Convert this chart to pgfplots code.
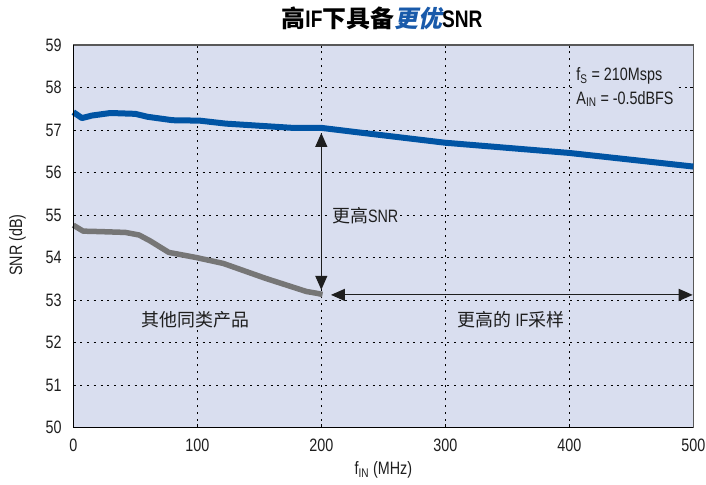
\documentclass[border=0pt]{standalone}
\usepackage{fontspec}
\setmainfont[FakeStretch=0.8]{Liberation Sans}
\newfontfamily\cjk{Noto Sans CJK SC}
\newfontfamily\cjkit[FakeSlant=0.2]{Noto Sans CJK SC}
\usepackage{pgfplots}
\pgfplotsset{compat=1.18}
\usetikzlibrary{arrows.meta}
\definecolor{bg}{RGB}{217,222,239}
\definecolor{snrblue}{RGB}{0,84,164}
\definecolor{snrgray}{RGB}{118,118,118}
\definecolor{titleblue}{RGB}{25,90,170}
\definecolor{txt}{RGB}{30,30,30}
\pgfplotstableread{
x y
0 57.42
7 57.28
15 57.34
30 57.40
50 57.38
60 57.31
80 57.23
102 57.22
123 57.15
150 57.10
177 57.05
200 57.05
231 56.94
300 56.70
400 56.46
500 56.14
}\bluedata
\pgfplotstableread{
x y
0 54.76
8 54.62
21 54.61
42 54.59
53 54.53
62 54.39
77 54.12
99 54.00
121 53.86
155 53.51
188 53.20
196 53.16
201 53.13
}\graydata
\begin{document}
\begin{tikzpicture}
\useasboundingbox (0,0) rectangle (706bp,485bp);
\begin{axis}[
  at={(73.3bp,57.5bp)}, anchor=south west,
  width=620bp, height=382.5bp, scale only axis,
  xmin=0, xmax=500, ymin=50, ymax=59,
  xtick={0,100,...,500}, ytick={50,51,...,59},
  axis background/.style={fill=bg},
  grid=major,
  major grid style={black, line width=0.8bp, dash pattern=on 2bp off 4.8bp},
  axis line style={draw=black!65, line width=1.2bp},
  tick style={black, line width=0.6bp},
  major tick length=3bp,
  tick align=inside,
  ticklabel style={font=\fontsize{18}{20}\selectfont, text=txt},
  xticklabel style={inner sep=0pt, anchor=north, yshift=-11bp},
  yticklabel style={inner sep=0pt, anchor=east, xshift=-11.6bp},
  /pgf/number format/assume math mode=true,
  xlabel={f\textsubscript{IN} (MHz)},
  ylabel={SNR (dB)},
  xlabel style={at={(axis description cs:0.5,-0.111)}, anchor=center, font=\fontsize{18}{20}\selectfont, text=txt},
  ylabel style={at={(axis description cs:-0.090,0.477)}, anchor=center, font=\fontsize{18}{20}\selectfont, text=txt},
  clip=false,
]
\addplot[snrblue, line width=6bp, line join=round] table[x=x,y=y] {\bluedata};
\addplot[snrgray, line width=5.5bp, line join=round] table[x=x,y=y] {\graydata};
\draw[black, line width=1.2bp] (rel axis cs:0,1) -- (rel axis cs:0,0) -- (rel axis cs:1,0);
\draw[txt, line width=1.2bp, {Triangle[length=14bp,width=12bp]}-{Triangle[length=14bp,width=12bp]}] (axis cs:200,56.93) -- (axis cs:200,53.24);
\draw[txt, line width=1.2bp, {Triangle[length=14bp,width=12bp]}-{Triangle[length=14bp,width=12bp]}] (axis cs:207.8,53.12) -- (axis cs:499.5,53.12);
\node[anchor=west, fill=bg, inner sep=2bp, text=txt, font=\fontsize{18}{20}\selectfont] at (axis cs:207,54.98) {{\cjk 更高}SNR};
\node[anchor=center, fill=bg, inner sep=2bp, text=txt, font=\fontsize{18}{20}\selectfont\cjk] at (axis cs:98.5,52.53) {其他同类产品};
\node[anchor=center, fill=bg, inner sep=2bp, text=txt, font=\fontsize{18}{20}\selectfont] at (axis cs:353,52.53) {{\cjk 更高的} IF{\cjk 采样}};
\node[anchor=west, fill=bg, inner sep=2bp, align=left, text=txt, font=\fontsize{18}{24}\selectfont] at (axis cs:404,58.01) {f\textsubscript{S} = 210Msps\\A\textsubscript{IN} = -0.5dBFS};
\end{axis}
\node[anchor=center, font=\fontsize{24}{26}\selectfont\bfseries] at (382bp,467bp) {{\cjk 高}IF{\cjk 下具备}{\cjkit\color{titleblue}更优}SNR};
\end{tikzpicture}
\end{document}
